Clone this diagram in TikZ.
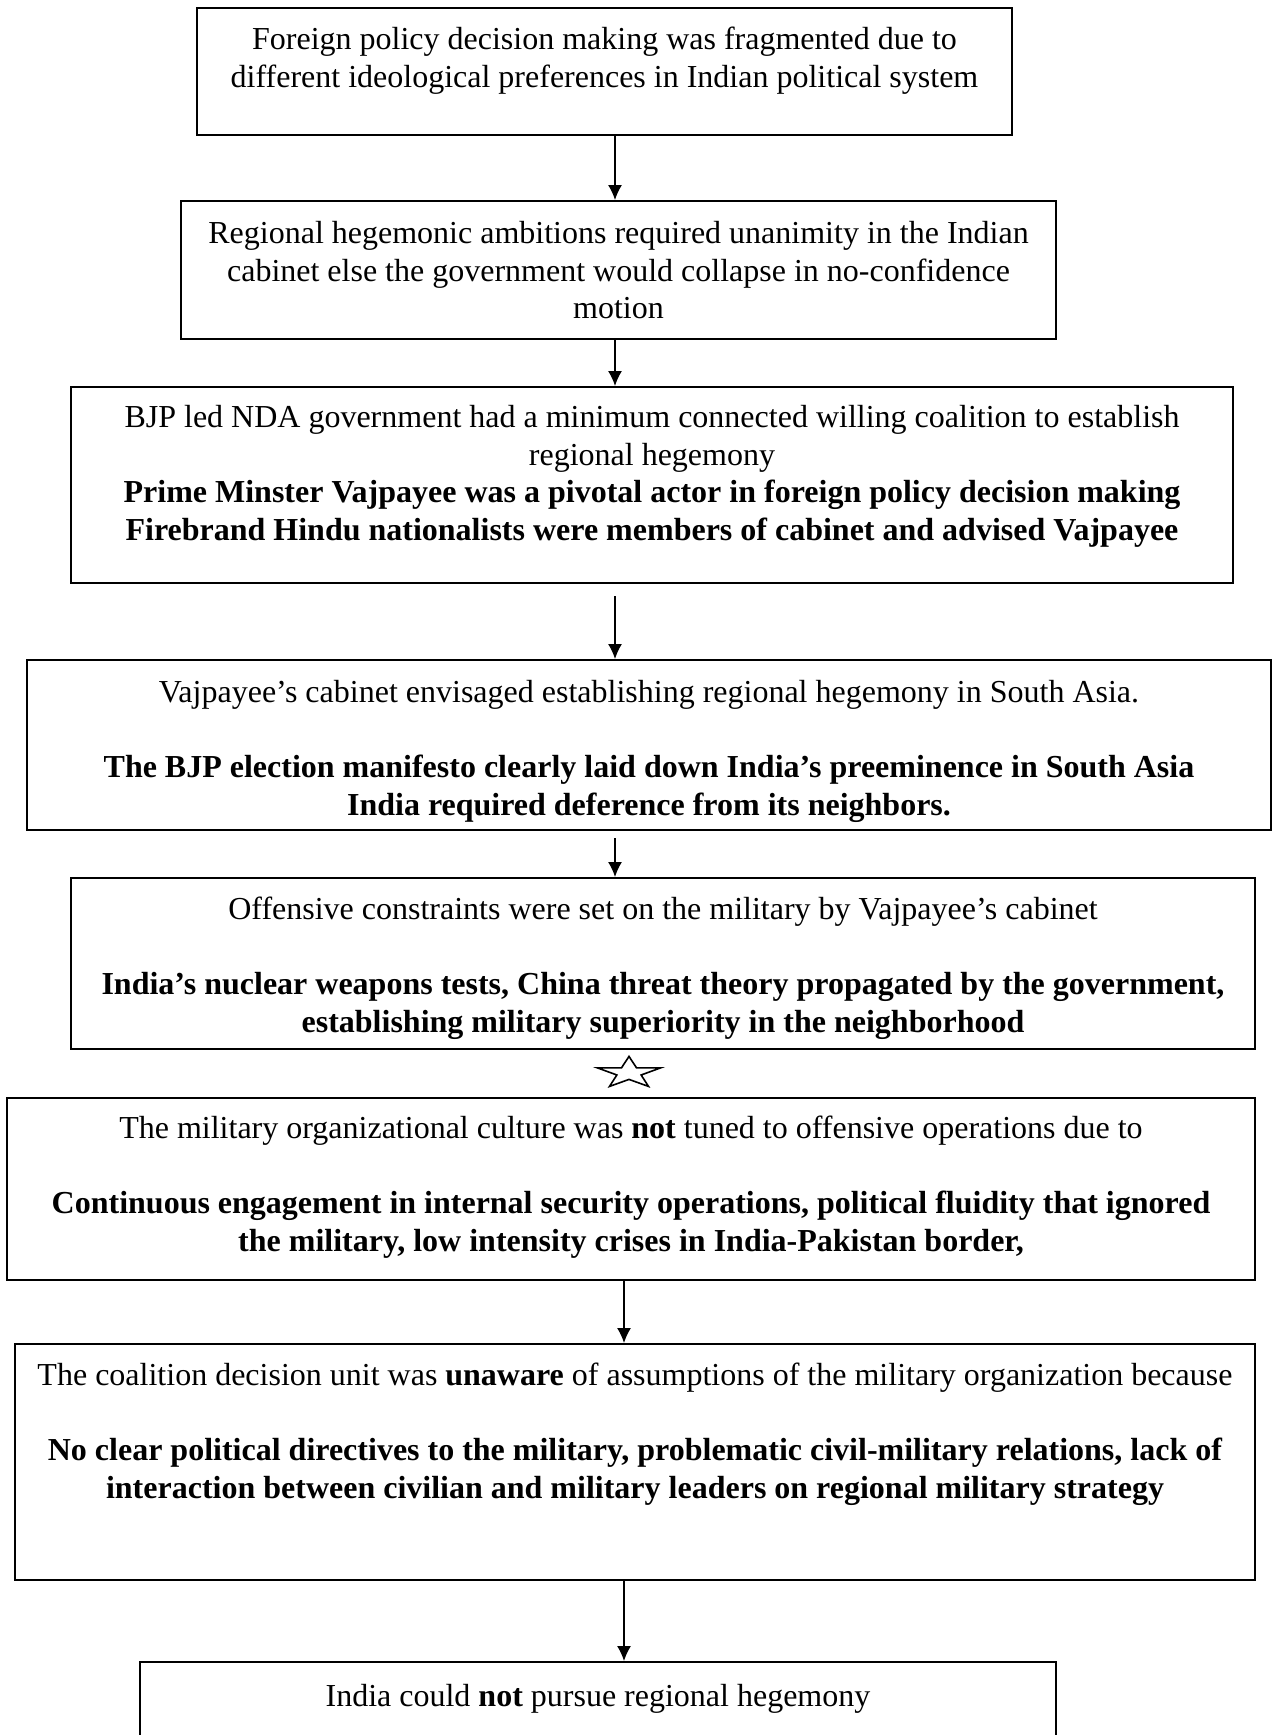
\documentclass[tikz,border=0pt]{standalone}
\usepackage{fontspec}
\setmainfont{Liberation Serif}
\usetikzlibrary{positioning,fit,shapes.geometric,arrows.meta}

\tikzset{
  box/.style={draw, line width=1pt, inner sep=0pt},
  lbl/.style={align=center, inner sep=0pt, font=\fontsize{16pt}{18.75pt}\selectfont},
  arr/.style={-{Latex[length=7.5pt,width=7pt]}, line width=0.7pt},
  starmark/.style={star, star points=5, star point ratio=2.6, draw, line width=0.8pt,
    minimum size=16.6pt, inner sep=0pt, xscale=2, transform shape}
}

\begin{document}
\begin{tikzpicture}[x=0.5pt, y=-0.5pt]
\useasboundingbox (0,0) rectangle (1274,1735);
\clip (0,0) rectangle (1274,1735);

% Boxes
\foreach \n/\l/\t/\r/\b in {1/197/8/1012/135, 2/181/201/1056/339, 3/71/387/1233/583,
  4/27/660/1271/830, 5/71/878/1255/1049, 6/7/1098/1255/1280, 7/15/1344/1255/1580,
  8/140/1662/1056/1790}
  \node[box, fit={(\l,\t) (\r,\b)}] (b\n) {};

% Texts
\node[lbl, below=10pt of b1.north] (t1) {Foreign policy decision making was fragmented due to\\
  different ideological preferences in Indian political system};
\node[lbl, below=10.5pt of b2.north] (t2) {Regional hegemonic ambitions required unanimity in the Indian\\
  cabinet else the government would collapse in no-confidence\\ motion};
\node[lbl, below=9.5pt of b3.north] (t3) {BJP led NDA government had a minimum connected willing coalition to establish\\
  regional hegemony\\
  \textbf{Prime Minster Vajpayee was a pivotal actor in foreign policy decision making}\\
  \textbf{Firebrand Hindu nationalists were members of cabinet and advised Vajpayee}};
\node[lbl, below=10.5pt of b4.north] (t4) {Vajpayee's cabinet envisaged establishing regional hegemony in South Asia.\\[18.75pt]
  \textbf{The BJP election manifesto clearly laid down India's preeminence in South Asia}\\
  \textbf{India required deference from its neighbors.}};
\node[lbl, below=10pt of b5.north] (t5) {Offensive constraints were set on the military by Vajpayee's cabinet\\[18.75pt]
  \textbf{India's nuclear weapons tests, China threat theory propagated by the government,}\\
  \textbf{establishing military superiority in the neighborhood}};
\node[lbl, below=9.5pt of b6.north] (t6) {The military organizational culture was \textbf{not} tuned to offensive operations due to\\[18.75pt]
  \textbf{Continuous engagement in internal security operations, political fluidity that ignored}\\
  \textbf{the military, low intensity crises in India-Pakistan border,}};
\node[lbl, below=10pt of b7.north] (t7) {The coalition decision unit was \textbf{unaware} of assumptions of the military organization because\\[18.75pt]
  \textbf{No clear political directives to the military, problematic civil-military relations, lack of}\\
  \textbf{interaction between civilian and military leaders on regional military strategy}};
\node[lbl, below=11.5pt of b8.north] (t8) {India could \textbf{not} pursue regional hegemony};

% Arrows
\coordinate (ax) at (615,0);
\coordinate (bx) at (624,0);
\draw[arr] (b1.south -| ax) -- (b2.north -| ax);
\draw[arr] (b2.south -| ax) -- (b3.north -| ax);
\draw[arr, shorten <=6pt] (b3.south -| ax) -- (b4.north -| ax);
\draw[arr, shorten <=3.5pt] (b4.south -| ax) -- (b5.north -| ax);
\draw[arr] (b6.south -| bx) -- (b7.north -| bx);
\draw[arr] (b7.south -| bx) -- (b8.north -| bx);

% Star
\node[starmark] (st) at (629,1073) {};

\end{tikzpicture}
\end{document}
